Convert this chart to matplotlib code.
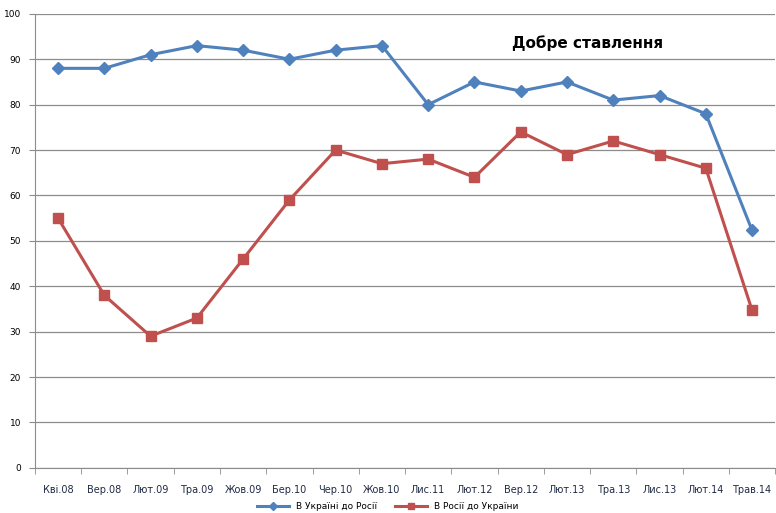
import matplotlib.pyplot as plt
import numpy as np

plt.rcParams['font.family'] = ['DejaVu Sans']

months = ['Кві.08', 'Вер.08', 'Лют.09', 'Тра.09', 'Жов.09', 'Бер.10', 'Чер.10', 'Жов.10',
          'Лис.11', 'Лют.12', 'Вер.12', 'Лют.13', 'Тра.13', 'Лис.13', 'Лют.14', 'Трав.14']
ua_to_ru = [88, 88, 91, 93, 92, 90, 92, 93, 80, 85, 83, 85, 81, 82, 78, 52.3]
ru_to_ua = [55, 38, 29, 33, 46, 59, 70, 67, 68, 64, 74, 69, 72, 69, 66, 34.7]

blue = '#4F81BD'
red = '#C0504D'
grid_c = '#8c8c8c'

fig = plt.figure(figsize=(7.76, 5.13), dpi=100)
ax = fig.add_axes([0.045, 0.088, 0.954, 0.885])

x = np.arange(len(months))
ax.plot(x, ua_to_ru, color=blue, lw=2.2, marker='D', ms=6, label='В Україні до Росії')
ax.plot(x, ru_to_ua, color=red, lw=2.2, marker='s', ms=7, label='В Росії до України')

ax.set_xlim(-0.5, len(months) - 0.5)
ax.set_ylim(0, 100)
ax.set_yticks(range(0, 101, 10))
ax.yaxis.grid(True, color=grid_c, lw=0.9)
ax.set_axisbelow(True)

ax.set_xticks(x)
ax.set_xticklabels(months, fontsize=7, color='#1f2a44')
ax.set_xticks(np.arange(-0.5, len(months), 1), minor=True)
ax.tick_params(axis='x', which='major', length=0, pad=12)
ax.tick_params(axis='x', which='minor', length=4, color=grid_c, direction='out')
ax.tick_params(axis='y', labelsize=6.5, length=4, color=grid_c, direction='out', pad=6)

for s in ['top', 'right']:
    ax.spines[s].set_visible(False)
ax.spines['left'].set_color(grid_c)
ax.spines['bottom'].set_color(grid_c)

ax.text(0.746, 0.935, 'Добре ставлення', transform=ax.transAxes, fontsize=11,
        fontweight='bold', ha='center', va='center')

fig.legend(loc='lower center', bbox_to_anchor=(0.5, -0.012), ncol=2, frameon=False,
           fontsize=6.5, handlelength=3.5, columnspacing=2, markerscale=0.7)

fig.savefig('out.png', dpi=100)
